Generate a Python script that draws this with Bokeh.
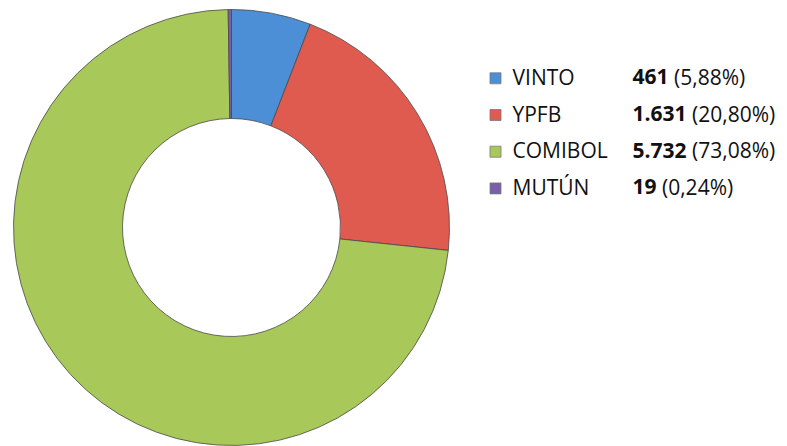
import numpy as np
from bokeh.plotting import figure
from bokeh.models import Range1d, ColumnDataSource
from bokeh.core.properties import value
from bokeh.embed import file_html
from bokeh.resources import INLINE

# ---- data ----
categories = ["VINTO", "YPFB", "COMIBOL", "MUTÚN"]
amounts = [461, 1631, 5732, 19]
amount_labels = ["461", "1.631", "5.732", "19"]
percent_labels = ["(5,88%)", "(20,80%)", "(73,08%)", "(0,24%)"]
colors = ["#4d8fd6", "#df5a4f", "#a8c85a", "#7a5fa6"]

# ---- layout (pixel-like data units, y downward as negative) ----
W, H = 787, 446
p = figure(width=W, height=H, output_backend="svg", toolbar_location=None,
           x_range=Range1d(0, W), y_range=Range1d(-H, 0),
           min_border=0, outline_line_color=None)
p.axis.visible = False
p.grid.visible = False
p.background_fill_color = "white"
p.border_fill_color = "white"

cx, cy = 231, -227
r_out, r_in = 218, 109

vals = np.array(amounts, dtype=float)
frac = vals / vals.sum()
ends = np.cumsum(frac)
starts = ends - frac
start_angle = np.pi / 2 - 2 * np.pi * starts
end_angle = np.pi / 2 - 2 * np.pi * ends

src = ColumnDataSource(dict(start=start_angle, end=end_angle, color=colors,
                            x=[cx] * 4, y=[cy] * 4))
p.annular_wedge(x="x", y="y", inner_radius=r_in, outer_radius=r_out,
                start_angle="start", end_angle="end", direction="clock",
                fill_color="color", line_color="#4a4a4a", line_width=1,
                line_alpha=0.8, source=src)

# ---- legend ----
fs = 21
base0, step = 83.3, 36.7
rows = np.arange(len(categories))
baselines = -(base0 + rows * step)
text_y = list(baselines + 7)

p.rect(x=[495] * 4, y=list(baselines + 5.5), width=11, height=11,
       fill_color=colors, line_color="#7a7a7a", line_width=0.8)

p.text(x=[512] * 4, y=text_y, text=categories,
       text_font=value("Open Sans"), text_font_size=f"{fs}px",
       text_color="#111111", text_baseline="alphabetic", text_align="left")

p.text(x=[632] * 4, y=text_y, text=amount_labels,
       text_font=value("Open Sans"), text_font_style="bold",
       text_font_size=f"{fs}px", text_color="#111111",
       text_baseline="alphabetic", text_align="left")

# approximate bold glyph widths (em) to place the percentage after the amount
def bold_width(s):
    w = 0.0
    for ch in s:
        if ch.isdigit():
            w += 0.572
        elif ch in ".,":
            w += 0.29
        else:
            w += 0.6
    return w * fs

pct_x = [632 + bold_width(s) + 0.26 * fs for s in amount_labels]
p.text(x=pct_x, y=text_y, text=percent_labels,
       text_font=value("Open Sans"), text_font_size=f"{fs}px",
       text_color="#111111", text_baseline="alphabetic", text_align="left")

open("out.html", "w").write(file_html(p, INLINE))
